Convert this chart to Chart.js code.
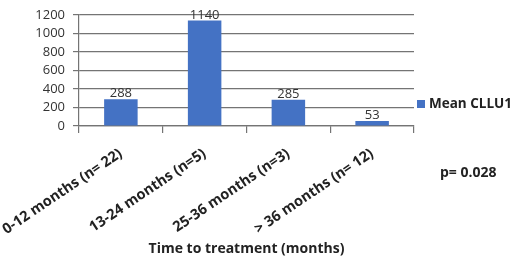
<!DOCTYPE html>
<html lang="en">
<head>
  <meta charset="UTF-8">
  <title>Mean CLLU1 by time to treatment</title>
  <script src="https://cdn.jsdelivr.net/npm/chart.js"></script>
  <style>
    html, body { margin: 0; padding: 0; background: #fff; }
    #wrap { width: 520px; height: 259px; }
  </style>
</head>
<body>
  <div id="wrap"><canvas id="chart" width="520" height="259"></canvas></div>

  <script>
    // data
    const categories = ['0-12 months (n= 22)', '13-24 months (n=5)', '25-36 months (n=3)', '> 36 months (n= 12)'];
    const meanCllu1 = [288, 1140, 285, 53];
    const seriesName = 'Mean CLLU1';
    const pValue = 'p= 0.028';
    const xTitle = 'Time to treatment (months)';

    const FONT = "'Open Sans', 'Liberation Sans', sans-serif";
    const BLUE = '#4472c4';
    const GRID = '#747474';

    // value labels over each bar + legend + p value
    const extras = {
      id: 'extras',
      afterDatasetsDraw(chart) {
        const c = chart.ctx;
        const meta = chart.getDatasetMeta(0);
        c.save();
        c.font = '13px ' + FONT;
        c.fillStyle = '#333';
        c.textAlign = 'center';
        c.textBaseline = 'alphabetic';
        meta.data.forEach((bar, i) => {
          c.fillText(String(meanCllu1[i]), bar.x, bar.y - 2);
        });

        // legend
        c.fillStyle = BLUE;
        c.fillRect(417, 100, 8, 8);
        c.fillStyle = '#222';
        c.font = 'bold 13.5px ' + FONT;
        c.textAlign = 'left';
        c.textBaseline = 'middle';
        c.fillText(seriesName, 429, 104);

        // p value
        c.font = 'bold 14px ' + FONT;
        c.fillText(pValue, 440, 173);
        c.restore();
      }
    };

    new Chart(document.getElementById('chart'), {
      type: 'bar',
      data: {
        labels: categories,
        datasets: [{
          label: seriesName,
          data: meanCllu1,
          backgroundColor: BLUE,
          borderWidth: 0,
          barPercentage: 0.4,
          categoryPercentage: 1
        }]
      },
      options: {
        responsive: false,
        animation: false,
        layout: { padding: { top: 15, right: 106, left: 0, bottom: 0 } },
        plugins: {
          legend: { display: false },
          tooltip: { enabled: false }
        },
        scales: {
          x: {
            grid: { display: true, drawOnChartArea: false, color: GRID, lineWidth: 1.2, tickLength: 7, offset: true },
            border: { color: GRID, width: 1.2 },
            ticks: {
              color: '#222',
              font: { family: FONT, size: 14.5, weight: 'bold' },
              minRotation: 34,
              maxRotation: 34,
              padding: 12
            },
            title: {
              display: true,
              text: xTitle,
              color: '#222',
              font: { family: FONT, size: 14, weight: 'bold' },
              padding: { top: 0, bottom: 2 }
            },
            afterFit(scale) {
              scale.height = 133;
              scale.paddingLeft = 0;
              scale.paddingRight = 0;
            }
          },
          y: {
            min: 0,
            max: 1200,
            ticks: {
              stepSize: 200,
              autoSkip: false,
              color: '#333',
              font: { family: FONT, size: 13 },
              padding: 8,
              callback: v => String(v)
            },
            grid: { color: GRID, lineWidth: 1.2, tickLength: 6 },
            border: { color: GRID, width: 1.2 },
            afterFit(scale) {
              scale.width = 79;
              scale.paddingTop = 0;
              scale.paddingBottom = 0;
            }
          }
        }
      },
      plugins: [extras]
    });
  </script>
</body>
</html>
